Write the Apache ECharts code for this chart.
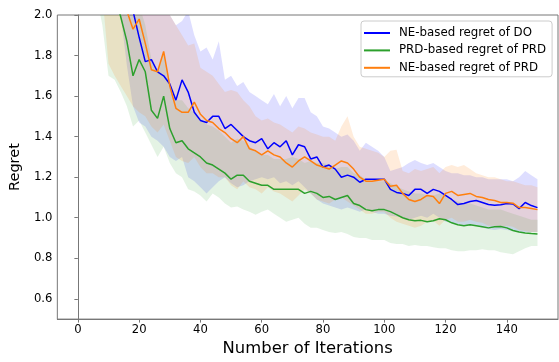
<!DOCTYPE html>
<html><head><meta charset="utf-8">
<script src="https://cdn.jsdelivr.net/npm/echarts@6/dist/echarts.min.js"></script>
<style>html,body{margin:0;padding:0;background:#fff}#c{width:559px;height:362px}</style>
</head><body><div id="c"></div>
<script>
const iterations = [2,4,6,8,10,12,14,16,18,20,22,24,26,28,30,32,34,36,38,40,42,44,46,48,50,52,54,56,58,60,62,64,66,68,70,72,74,76,78,80,82,84,86,88,90,92,94,96,98,100,102,104,106,108,110,112,114,116,118,120,122,124,126,128,130,132,134,136,138,140,142,144,146,148,150];

const seriesNames = ['NE-based regret of DO', 'PRD-based regret of PRD', 'NE-based regret of PRD'];

const blueMean = [3.6,3.2,2.9,2.7,2.5,2.35,2.25,2.12,2.02,1.89,1.77,1.78,1.72,1.70,1.66,1.58,1.68,1.62,1.52,1.48,1.47,1.50,1.50,1.44,1.46,1.43,1.40,1.38,1.37,1.39,1.34,1.37,1.35,1.38,1.31,1.36,1.35,1.29,1.30,1.25,1.26,1.24,1.20,1.21,1.20,1.175,1.19,1.19,1.19,1.19,1.14,1.125,1.12,1.11,1.14,1.14,1.12,1.14,1.13,1.11,1.09,1.065,1.07,1.08,1.085,1.075,1.065,1.062,1.064,1.07,1.068,1.045,1.075,1.06,1.05];
const blueUpper = [4.0,3.7,3.4,3.2,3.0,2.8,2.6,2.5,2.4,2.3,2.2,2.15,2.1,2.05,2.0,1.95,1.97,2.02,1.9,1.82,1.84,1.78,1.87,1.68,1.70,1.65,1.67,1.62,1.60,1.58,1.56,1.61,1.55,1.60,1.54,1.59,1.59,1.52,1.50,1.45,1.44,1.42,1.40,1.41,1.38,1.33,1.37,1.35,1.33,1.30,1.23,1.24,1.25,1.27,1.285,1.27,1.26,1.27,1.25,1.23,1.22,1.22,1.21,1.21,1.20,1.20,1.19,1.19,1.19,1.19,1.18,1.20,1.23,1.21,1.19];
const blueLower = [3.0,2.8,2.6,2.45,2.3,2.15,2.0,1.75,1.55,1.47,1.45,1.40,1.38,1.35,1.30,1.28,1.30,1.20,1.18,1.15,1.12,1.15,1.18,1.20,1.17,1.15,1.16,1.18,1.19,1.20,1.19,1.20,1.17,1.18,1.16,1.18,1.15,1.12,1.09,1.07,1.06,1.05,1.04,1.05,1.04,1.03,1.04,1.03,1.02,1.02,1.01,1.006,1.0,0.99,1.0,1.01,1.0,1.02,1.0,0.98,0.975,0.97,0.96,0.96,0.96,0.95,0.945,0.94,0.945,0.94,0.935,0.93,0.93,0.93,0.93];

const greenMean = [3.0,2.7,2.45,2.3,2.2,2.1,1.99,1.87,1.70,1.78,1.72,1.53,1.49,1.60,1.44,1.37,1.38,1.34,1.32,1.30,1.27,1.26,1.24,1.22,1.19,1.21,1.21,1.18,1.17,1.16,1.16,1.14,1.14,1.14,1.14,1.14,1.12,1.13,1.12,1.10,1.105,1.09,1.10,1.11,1.07,1.06,1.04,1.035,1.04,1.04,1.03,1.015,1.00,0.99,0.985,0.987,0.98,0.985,0.995,0.99,0.975,0.965,0.96,0.965,0.96,0.955,0.95,0.955,0.957,0.95,0.937,0.93,0.925,0.922,0.92];
const greenUpper = [3.6,3.2,2.9,2.7,2.55,2.4,2.3,2.15,2.0,2.05,1.95,1.78,1.72,1.82,1.66,1.58,1.58,1.54,1.52,1.49,1.46,1.45,1.43,1.40,1.37,1.39,1.38,1.35,1.33,1.31,1.31,1.29,1.29,1.29,1.30,1.29,1.27,1.28,1.27,1.27,1.26,1.24,1.25,1.25,1.22,1.21,1.19,1.18,1.18,1.18,1.17,1.155,1.14,1.13,1.12,1.12,1.11,1.11,1.12,1.11,1.09,1.08,1.07,1.07,1.06,1.05,1.04,1.04,1.04,1.03,1.02,1.01,1.0,0.99,0.99];
const greenLower = [2.6,2.3,2.1,1.95,1.70,1.68,1.62,1.55,1.45,1.48,1.42,1.36,1.30,1.35,1.27,1.22,1.20,1.14,1.13,1.11,1.08,1.12,1.10,1.07,1.05,1.055,1.04,1.03,1.015,1.03,1.04,1.02,1.0,0.98,0.99,1.0,0.97,0.95,0.95,0.94,0.93,0.925,0.93,0.92,0.905,0.90,0.90,0.89,0.89,0.89,0.875,0.87,0.87,0.86,0.865,0.86,0.86,0.855,0.85,0.85,0.84,0.835,0.835,0.84,0.84,0.845,0.84,0.84,0.83,0.825,0.82,0.835,0.85,0.86,0.86];

const orangeMean = [3.4,3.0,2.75,2.55,2.4,2.25,2.15,2.02,1.93,1.98,1.86,1.73,1.72,1.82,1.65,1.54,1.52,1.52,1.57,1.51,1.48,1.47,1.44,1.42,1.39,1.37,1.40,1.34,1.33,1.31,1.33,1.31,1.30,1.27,1.25,1.28,1.30,1.28,1.26,1.25,1.24,1.26,1.28,1.27,1.24,1.20,1.18,1.18,1.185,1.19,1.155,1.16,1.12,1.09,1.08,1.09,1.11,1.105,1.07,1.12,1.13,1.11,1.115,1.12,1.105,1.10,1.09,1.085,1.075,1.075,1.072,1.05,1.05,1.045,1.04];
const orangeUpper = [4.0,3.6,3.3,3.0,2.8,2.6,2.5,2.4,2.3,2.3,2.2,2.1,2.05,2.1,2.0,1.95,1.9,1.85,1.86,1.74,1.72,1.70,1.66,1.62,1.63,1.62,1.58,1.55,1.50,1.48,1.49,1.47,1.46,1.44,1.42,1.45,1.44,1.42,1.41,1.40,1.40,1.38,1.45,1.50,1.40,1.35,1.34,1.33,1.32,1.30,1.33,1.335,1.23,1.22,1.24,1.23,1.24,1.25,1.22,1.25,1.26,1.25,1.26,1.24,1.22,1.21,1.20,1.20,1.19,1.18,1.18,1.17,1.16,1.16,1.15];
const orangeLower = [2.9,2.6,2.35,2.1,1.76,1.70,1.65,1.60,1.55,1.52,1.50,1.45,1.42,1.46,1.38,1.30,1.28,1.27,1.30,1.25,1.22,1.22,1.20,1.20,1.16,1.14,1.18,1.15,1.14,1.12,1.15,1.13,1.12,1.10,1.08,1.11,1.14,1.12,1.09,1.08,1.07,1.09,1.10,1.08,1.06,1.04,1.02,1.02,1.03,1.03,1.00,0.98,0.97,0.96,0.95,0.96,0.98,0.985,0.96,0.99,1.0,0.98,0.98,0.99,0.98,0.975,0.96,0.96,0.955,0.96,0.955,0.94,0.935,0.93,0.93];

const xTicks = [0,20,40,60,80,100,120,140];
const yTicks = [0.6,0.8,1.0,1.2,1.4,1.6,1.8,2.0];

const colors = ['#0000ff', '#2ca02c', '#ff7f0e'];
const bandColors = ['rgba(0,0,255,0.13)', 'rgba(44,160,44,0.13)', 'rgba(255,127,14,0.15)'];
const means = [blueMean, greenMean, orangeMean];
const uppers = [blueUpper, greenUpper, orangeUpper];
const lowers = [blueLower, greenLower, orangeLower];

const FONT = 'DejaVu Sans';
const series = [];
for (let i = 0; i < 3; i++) {
  const up = uppers[i], lo = lowers[i], col = bandColors[i];
  series.push({
    type: 'custom', silent: true, z: 1, clip: true,
    data: [[iterations[0], lo[0]]],
    renderItem: function (params, api) {
      const pts = [];
      for (let k = 0; k < iterations.length; k++) pts.push(api.coord([iterations[k], up[k]]));
      for (let k = iterations.length - 1; k >= 0; k--) pts.push(api.coord([iterations[k], lo[k]]));
      const cs = params.coordSys;
      return {
        type: 'group',
        clipPath: { type: 'rect', shape: { x: cs.x, y: cs.y, width: cs.width, height: cs.height } },
        children: [{ type: 'polygon', shape: { points: pts }, style: { fill: col, stroke: null } }]
      };
    }
  });
}
for (let i = 0; i < 3; i++) {
  series.push({
    name: seriesNames[i], type: 'line', symbol: 'none', z: 3 + i,
    color: colors[i],
    lineStyle: { color: colors[i], width: 1.5 },
    data: iterations.map((x, k) => [x, means[i][k]])
  });
}

const axisCol = '#777';
const chart = echarts.init(document.getElementById('c'), null, { renderer: 'canvas' });
chart.setOption({
  animation: false,
  backgroundColor: '#fff',
  textStyle: { fontFamily: FONT },
  grid: { left: 49, right: 1, top: 15, bottom: 42, show: true, borderColor: axisCol, borderWidth: 1, backgroundColor: 'transparent' },
  legend: {
    data: seriesNames,
    orient: 'vertical', left: 361, top: 21,
    icon: 'rect', itemWidth: 26, itemHeight: 2,
    itemGap: 3.4,
    padding: [5, 6, 2, 3],
    backgroundColor: 'rgba(255,255,255,0.85)',
    borderColor: '#cccccc', borderWidth: 1, borderRadius: 3,
    textStyle: { fontFamily: FONT, fontSize: 11.8, color: '#000', lineHeight: 14, padding: [0, 0, 0, 4] },
    selectedMode: false
  },
  xAxis: {
    type: 'value', min: -6.7, max: 156.7,
    name: 'Number of Iterations', nameLocation: 'middle', nameGap: 21,
    nameTextStyle: { fontFamily: FONT, fontSize: 16.4, color: '#000' },
    axisLine: { show: true, onZero: false, lineStyle: { color: axisCol, width: 1 } },
    axisTick: { show: true, length: 3.5, customValues: xTicks, lineStyle: { color: axisCol } },
    axisLabel: { customValues: xTicks, fontFamily: FONT, fontSize: 11.6, color: '#000', margin: 5 },
    splitLine: { show: false }
  },
  yAxis: {
    type: 'value', min: 0.5, max: 2.0,
    name: 'Regret', nameLocation: 'middle', nameGap: 28, nameRotate: 90,
    nameTextStyle: { fontFamily: FONT, fontSize: 14.5, color: '#000' },
    axisLine: { show: true, lineStyle: { color: axisCol, width: 1 } },
    axisTick: { show: true, length: 3.5, customValues: yTicks, lineStyle: { color: axisCol } },
    axisLabel: { customValues: yTicks, fontFamily: FONT, fontSize: 11.6, color: '#000', margin: 5,
      formatter: v => v.toFixed(1) },
    splitLine: { show: false }
  },
  series: series
});
</script></body></html>
